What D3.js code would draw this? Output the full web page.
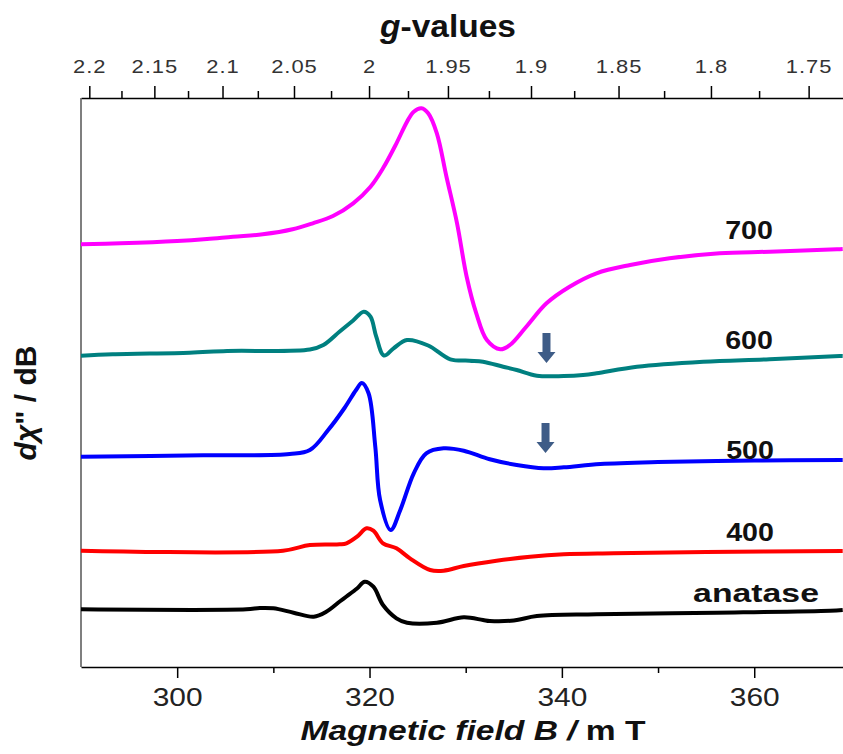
<!DOCTYPE html>
<html>
<head>
<meta charset="utf-8">
<script src="https://cdn.jsdelivr.net/npm/d3@7"></script>
<style>
body { margin: 0; background: #fff; }
svg { display: block; font-family: "Liberation Sans", Arial, sans-serif; }
</style>
</head>
<body>
<script>

// g * B constant (mT) for the spectrometer frequency
var K = 639.9

var fieldTicks = [300, 320, 340, 360]
var fieldMinor = [310, 330, 350]
var gTicks = [2.2, 2.15, 2.1, 2.05, 2, 1.95, 1.9, 1.85, 1.8, 1.75]
var gMinor = [2.175, 2.125, 2.075, 2.025, 1.975, 1.925, 1.875, 1.825, 1.775]

var seriesNames = ["700", "600", "500", "400", "anatase"]
var seriesColors = ["#ff00ff", "#008080", "#0000ff", "#ff0000", "#000000"]

// field (mT) and signal (arb. units)
var field700 = [290.0, 294.1, 300.0, 303.1, 305.8, 308.9, 312.0, 314.1, 316.2, 318.3, 320.1, 321.4, 322.8, 323.9, 324.6, 325.4, 326.1, 327.0, 328.0, 329.1, 330.1, 331.1, 332.2, 333.6, 334.6, 336.3, 338.4, 340.8, 343.6, 347.1, 351.2, 356.4, 361.6, 368.6, 369.2]
var int700   = [422.7, 423.7, 426, 428, 430.3, 432.7, 437.7, 443.7, 451, 463.7, 480.3, 498.7, 523.7, 545.3, 555.3, 558.7, 553.7, 533.7, 490.3, 443.7, 390.3, 353.7, 327, 317.7, 322, 340.3, 363.7, 380.3, 393.7, 402, 408.7, 413.7, 415.3, 417.7, 418]

var field600 = [290.0, 293.3, 301.3, 305.2, 313.8, 315.2, 316.9, 318.3, 319.4, 320.1, 320.7, 321.5, 322.5, 323.9, 326.1, 328.4, 330.4, 331.8, 333.9, 335.3, 337.4, 340.2, 342.2, 343.6, 347.8, 354.7, 361.6, 368.9, 369.2]
var int600   = [311.3, 312.7, 314.3, 316, 317.5, 322, 335.5, 346.5, 355.3, 350.3, 330.3, 311.5, 318.7, 327, 321.5, 307.7, 306.3, 305.3, 300.3, 297, 291.3, 291, 292, 293.7, 300.3, 305.3, 307.7, 311, 311]

var field500 = [290.0, 302.7, 311.7, 313.8, 315.7, 317.4, 318.6, 319.2, 319.9, 320.6, 321.1, 322.2, 323.2, 324.6, 325.9, 327.7, 329.8, 332.5, 335.3, 338.1, 340.2, 344.0, 350.0, 360.0, 369.2]
var int500   = [210.3, 211.7, 213, 217, 237, 259, 277, 284, 273.7, 220.3, 167, 137, 157, 193.7, 213.7, 218.7, 216.3, 207.7, 202, 198.7, 199.7, 203, 205, 206.5, 207]

var field400 = [290.0, 311.0, 313.8, 316.9, 317.6, 318.7, 319.7, 320.4, 321.4, 322.8, 324.2, 326.3, 327.7, 329.8, 333.2, 336.7, 340.2, 345.4, 355.0, 369.2]
var int400   = [116.3, 116.3, 122, 122.7, 123.7, 130.3, 138.7, 136.3, 123.7, 118.7, 108.7, 97, 96.3, 101, 106.3, 110.3, 112.7, 113.7, 115, 116]

var fieldAna = [290.0, 307.2, 308.6, 310.0, 312.1, 314.2, 315.5, 316.9, 317.6, 318.7, 319.5, 320.4, 321.4, 322.8, 323.9, 327.0, 329.8, 331.8, 332.5, 335.0, 337.4, 343.6, 356.1, 367.9, 369.2]
var intAna   = [57.7, 57.7, 59, 58.7, 54.3, 50.3, 55.3, 65.5, 70.5, 78.5, 85.3, 80.3, 62, 48.7, 44.3, 44.3, 49.7, 47, 46, 46.5, 51, 52.7, 54.3, 56.3, 57]

// arrows marking the weak feature near 338 mT
var arrowField = [338.4, 338.3]
var arrowTop = [334, 244]
var arrowBottom = [304, 214]

var fields = [field700, field600, field500, field400, fieldAna]
var ints = [int700, int600, int500, int400, intAna]

var width = 843, height = 754
var svg = d3.select("body").append("svg").attr("width", width).attr("height", height)

var x = d3.scaleLinear().domain([290, 370]).range([81, 850.4])
var gx = d3.scalePow().exponent(-1).domain([K / 290, K / 370]).range([81, 850.4])
var y = d3.scaleLinear().domain([0, 569]).range([667, 98])

// bottom axis
var bottomAxis = svg.append("g").attr("transform", "translate(0,667)")
bottomAxis.call(d3.axisBottom(x).tickValues(fieldTicks).tickSize(11).tickSizeOuter(0).tickPadding(9.5).tickFormat(d3.format("d")))
bottomAxis.append("g").call(d3.axisBottom(x).tickValues(fieldMinor).tickSize(6).tickFormat(""))
  .select(".domain").remove()
bottomAxis.selectAll("path,line").attr("stroke", "#000").attr("stroke-width", 1.5)
bottomAxis.selectAll("text").attr("font-size", 26).attr("fill", "#222")
  .attr("font-family", "Liberation Sans, Arial, sans-serif")
  .attr("transform", "scale(1.15,1)")

// top g-value axis
var topAxis = svg.append("g").attr("transform", "translate(0,98)")
topAxis.call(d3.axisTop(gx).tickValues(gTicks).tickSize(12).tickSizeOuter(0).tickPadding(13).tickFormat(function(d) {return String(d)}))
topAxis.append("g").call(d3.axisTop(gx).tickValues(gMinor).tickSize(7).tickFormat(""))
  .select(".domain").remove()
topAxis.selectAll("path,line").attr("stroke", "#000").attr("stroke-width", 1.5)
topAxis.selectAll("text").attr("font-size", 18).attr("fill", "#333")
  .attr("font-family", "Liberation Sans, Arial, sans-serif")
  .attr("letter-spacing", 0.8)
  .attr("transform", "scale(1.22,1)")

// left axis line
svg.append("line")
  .attr("x1", 81).attr("x2", 81).attr("y1", 98).attr("y2", 667)
  .attr("stroke", "#555").attr("stroke-width", 1.5)

// spectra
var line = d3.line()
  .x(function(d) {return x(d[0])})
  .y(function(d) {return y(d[1])})
  .curve(d3.curveCatmullRom.alpha(0.5))

seriesNames.forEach(function(name, i) {
  var pts = fields[i].map(function(b, j) {return [b, ints[i][j]]})
  svg.append("path")
    .datum(pts)
    .attr("fill", "none")
    .attr("stroke", seriesColors[i])
    .attr("stroke-width", 4)
    .attr("stroke-linejoin", "round")
    .attr("d", line)
})

// arrows
arrowField.forEach(function(b, i) {
  var cx = x(b), t = y(arrowTop[i]), bt = y(arrowBottom[i])
  var hw = 9, sw = 4, hl = 11
  var p = [[cx - sw, t], [cx + sw, t], [cx + sw, bt - hl], [cx + hw, bt - hl], [cx, bt],
           [cx - hw, bt - hl], [cx - sw, bt - hl]]
  svg.append("path")
    .attr("d", "M" + p.map(function(q) {return q.join(",")}).join("L") + "Z")
    .attr("fill", "#3e5c87")
})

// series labels
var labelPos = [[749, 239], [749, 349], [750, 459], [750, 541], [756, 602]]
seriesNames.forEach(function(name, i) {
  svg.append("text")
    .attr("transform", "translate(" + labelPos[i][0] + "," + labelPos[i][1] + ") scale(" + (i == 4 ? 1.3 : 1.1) + ",1)")
    .attr("text-anchor", "middle")
    .attr("font-size", 26)
    .attr("font-weight", "bold")
    .attr("fill", "#111")
    .text(name)
})

// titles
var gt = svg.append("text")
  .attr("transform", "translate(448,37) scale(1.08,1)")
  .attr("text-anchor", "middle")
  .attr("font-size", 31)
  .attr("font-weight", "bold")
  .attr("fill", "#111")
gt.append("tspan").attr("font-style", "italic").text("g")
gt.append("tspan").text("-values")

var xt = svg.append("text")
  .attr("transform", "translate(473,740) scale(1.2,1)")
  .attr("text-anchor", "middle")
  .attr("font-size", 28)
  .attr("font-weight", "bold")
  .attr("fill", "#111")
xt.append("tspan").attr("font-style", "italic").text("Magnetic field B / ")
xt.append("tspan").text("m T")

var yt = svg.append("text")
  .attr("transform", "translate(36,403) rotate(-90)")
  .attr("text-anchor", "middle")
  .attr("font-size", 30)
  .attr("font-weight", "bold")
  .attr("fill", "#111")
yt.append("tspan").attr("font-style", "italic").text("dχ")
yt.append("tspan").text("\" / dB")

</script>
</body>
</html>
